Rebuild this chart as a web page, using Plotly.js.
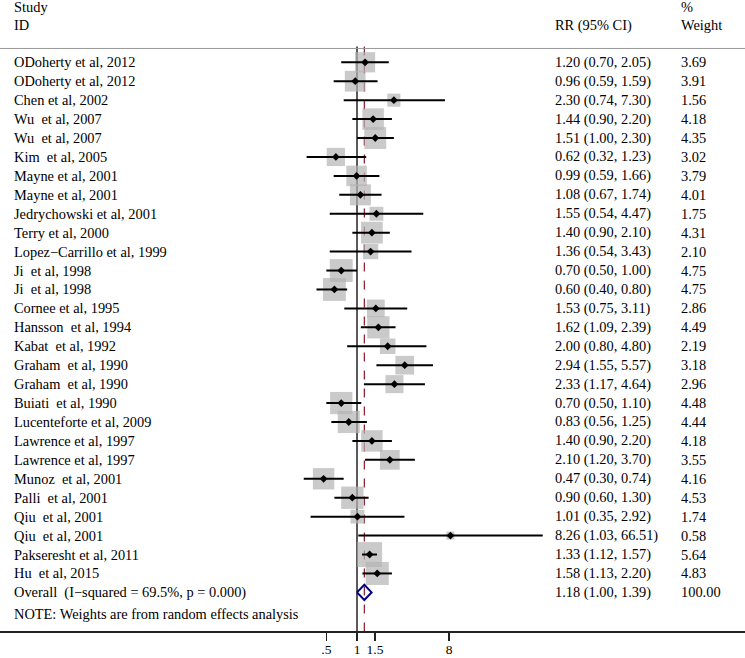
<!DOCTYPE html>
<html>
<head>
<meta charset="utf-8">
<script src="https://cdn.plot.ly/plotly-3.0.1.min.js"></script>
<style>html,body{margin:0;padding:0;background:#fff;}#chart{width:745px;height:658px;}</style>
</head>
<body>
<div id="chart"></div>
<script>
// ---- data ----
const studies = [
  "ODoherty et al, 2012", "ODoherty et al, 2012", "Chen et al, 2002",
  "Wu  et al, 2007", "Wu  et al, 2007", "Kim  et al, 2005",
  "Mayne et al, 2001", "Mayne et al, 2001", "Jedrychowski et al, 2001",
  "Terry et al, 2000", "Lopez\u2212Carrillo et al, 1999", "Ji  et al, 1998",
  "Ji  et al, 1998", "Cornee et al, 1995", "Hansson  et al, 1994",
  "Kabat  et al, 1992", "Graham  et al, 1990", "Graham  et al, 1990",
  "Buiati  et al, 1990", "Lucenteforte et al, 2009", "Lawrence et al, 1997",
  "Lawrence et al, 1997", "Munoz  et al, 2001", "Palli  et al, 2001",
  "Qiu  et al, 2001", "Qiu  et al, 2001", "Pakseresht et al, 2011",
  "Hu  et al, 2015"
];
const rr = [1.20, 0.96, 2.30, 1.44, 1.51, 0.62, 0.99, 1.08, 1.55, 1.40, 1.36, 0.70, 0.60, 1.53, 1.62, 2.00, 2.94, 2.33, 0.70, 0.83, 1.40, 2.10, 0.47, 0.90, 1.01, 8.26, 1.33, 1.58];
const ciLow = [0.70, 0.59, 0.74, 0.90, 1.00, 0.32, 0.59, 0.67, 0.54, 0.90, 0.54, 0.50, 0.40, 0.75, 1.09, 0.80, 1.55, 1.17, 0.50, 0.56, 0.90, 1.20, 0.30, 0.60, 0.35, 1.03, 1.12, 1.13];
const ciHigh = [2.05, 1.59, 7.30, 2.20, 2.30, 1.23, 1.66, 1.74, 4.47, 2.10, 3.43, 1.00, 0.80, 3.11, 2.39, 4.80, 5.57, 4.64, 1.10, 1.25, 2.20, 3.70, 0.74, 1.30, 2.92, 66.51, 1.57, 2.20];
const weights = [3.69, 3.91, 1.56, 4.18, 4.35, 3.02, 3.79, 4.01, 1.75, 4.31, 2.10, 4.75, 4.75, 2.86, 4.49, 2.19, 3.18, 2.96, 4.48, 4.44, 4.18, 3.55, 4.16, 4.53, 1.74, 0.58, 5.64, 4.83];
const overallLabel = "Overall  (I\u2212squared = 69.5%, p = 0.000)";
const overallRR = 1.18, overallLow = 1.00, overallHigh = 1.39, overallWeight = 100.00;
const noteText = "NOTE: Weights are from random effects analysis";
const tickVals = [0.5, 1, 1.5, 8];
const tickText = [".5", "1", "1.5", "8"];

// ---- build ----
const FONT = "Liberation Serif, Times New Roman, serif";
const FS = 14.4;
const rows = studies.map((_, i) => i + 1);
const overallRow = studies.length + 1;
const noteRow = studies.length + 2.15;
const keepSpaces = s => s.replace(/  /g, " \u00a0");

const squares = {
  x: rr, y: rows, type: "scatter", mode: "markers", hoverinfo: "skip",
  marker: { symbol: "square", color: "#b4b4b4", size: weights.map(w => 10.5 * Math.sqrt(w)), line: { width: 0 } }
};
const points = {
  x: rr, y: rows, type: "scatter", mode: "markers", hoverinfo: "skip",
  marker: { symbol: "diamond", color: "#000", size: 6, line: { width: 0 } },
  error_x: { type: "data", symmetric: false,
    array: rr.map((v, i) => ciHigh[i] - v), arrayminus: rr.map((v, i) => v - ciLow[i]),
    color: "#000", thickness: 2, width: 0 }
};
const dh = 0.4;
const diamond = {
  x: [overallLow, overallRR, overallHigh, overallRR, overallLow],
  y: [overallRow, overallRow - dh, overallRow, overallRow + dh, overallRow],
  type: "scatter", mode: "lines", hoverinfo: "skip",
  line: { color: "#000080", width: 2 }
};

const yTop = 0.27, yBottom = 31.04;
const ann = [];
const txt = (text, x, y) => ann.push({ text: keepSpaces(text), xref: "paper", yref: "y", x: x, y: y,
  xanchor: "left", yanchor: "middle", showarrow: false, font: { family: FONT, size: FS, color: "#000" } });
studies.forEach((s, i) => {
  txt(s, 12 / 745, rows[i]);
  txt(rr[i].toFixed(2) + " (" + ciLow[i].toFixed(2) + ", " + ciHigh[i].toFixed(2) + ")", 553 / 745, rows[i]);
  txt(weights[i].toFixed(2), 679 / 745, rows[i]);
});
txt(overallLabel, 12 / 745, overallRow);
txt(overallRR.toFixed(2) + " (" + overallLow.toFixed(2) + ", " + overallHigh.toFixed(2) + ")", 553 / 745, overallRow);
txt(overallWeight.toFixed(2), 679 / 745, overallRow);
txt(noteText, 12 / 745, noteRow);
txt("Study", 12 / 745, -1.9);
txt("ID", 12 / 745, -0.95);
txt("RR (95% CI)", 553 / 745, -0.95);
txt("%", 679 / 745, -1.9);
txt("Weight", 679 / 745, -0.95);

const layout = {
  width: 745, height: 658,
  margin: { l: 0, r: 0, t: 0, b: 27, pad: 0 },
  paper_bgcolor: "#fff", plot_bgcolor: "#fff",
  showlegend: false,
  font: { family: FONT, size: FS, color: "#000" },
  xaxis: {
    type: "log", range: [-3.504, 3.808], showgrid: false, zeroline: false,
    showline: true, linecolor: "#222", linewidth: 1.5,
    ticks: "outside", ticklen: 8, tickwidth: 1.5, tickcolor: "#222",
    ticklabelstandoff: -3,
    tickvals: tickVals, ticktext: tickText,
    tickfont: { family: FONT, size: 13.5, color: "#000" }, fixedrange: true
  },
  yaxis: { range: [yBottom, -2.29], visible: false, showgrid: false, zeroline: false, fixedrange: true },
  shapes: [
    { type: "line", xref: "paper", yref: "y", x0: 0, x1: 1, y0: yTop, y1: yTop, line: { color: "#999", width: 1 } },
    { type: "line", xref: "x", yref: "y", x0: 1, x1: 1, y0: yTop - 0.1, y1: yBottom, line: { color: "#222", width: 1.5 }, layer: "below" },
    { type: "line", xref: "x", yref: "y", x0: overallRR, x1: overallRR, y0: yTop - 0.1, y1: yBottom, line: { color: "#8b1a2a", width: 1.2, dash: "dash" }, layer: "below" }
  ],
  annotations: ann
};

Plotly.newPlot("chart", [squares, points, diamond], layout, { staticPlot: true, displayModeBar: false });
</script>
</body>
</html>
